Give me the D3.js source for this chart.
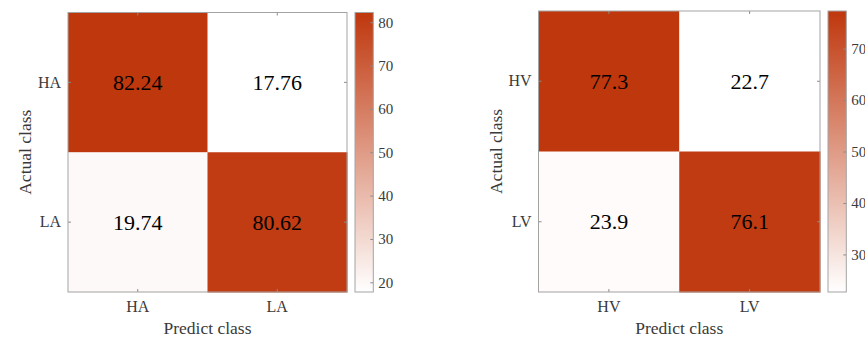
<!DOCTYPE html>
<html>
<head>
<meta charset="utf-8">
<script src="https://cdn.jsdelivr.net/npm/d3@7"></script>
<style>
  body { margin: 0; background: #fff; }
  svg text { font-family: "Liberation Serif", "Times New Roman", serif; }
  .frame { fill: none; stroke: #a3a3a3; stroke-width: 1; }
  .axis path { display: none; }
  .axis line { stroke: #8a8a8a; }
  .axis text { fill: #3a3a3a; font-size: 16px; }
  .cbar text { font-size: 15px; }
</style>
</head>
<body>
<div id="chart"></div>
<script>
// confusion matrix values (percent), rows = actual, cols = predicted
var leftClasses = ["HA", "LA"];
var leftValues = [[82.24, 17.76], [19.74, 80.62]];
var leftBarTicks = [20, 30, 40, 50, 60, 70, 80];

var rightClasses = ["HV", "LV"];
var rightValues = [[77.3, 22.7], [23.9, 76.1]];
var rightBarTicks = [30, 40, 50, 60, 70];

var width = 865, height = 340;
var lowColor = "#ffffff", highColor = "#bf370d";

var svg = d3.select("#chart").append("svg")
  .attr("width", width).attr("height", height);

var defs = svg.append("defs");

function drawMatrix(id, classes, values, barTicks, box) {
  var g = svg.append("g");
  var flat = [];
  values.forEach(function(row, i) {
    row.forEach(function(v, j) { flat.push({ r: i, c: j, v: v }); });
  });
  var vmin = d3.min(flat, function(d) { return d.v; });
  var vmax = d3.max(flat, function(d) { return d.v; });
  var color = d3.scaleLinear().domain([vmin, vmax]).range([lowColor, highColor]);

  var x = d3.scaleBand().domain(classes).range([box.x0, box.x1]);
  var y = d3.scaleBand().domain(classes).range([box.y0, box.y1]);

  // cells
  g.selectAll("rect.cell").data(flat).enter().append("rect")
    .attr("class", "cell")
    .attr("x", function(d) { return x(classes[d.c]); })
    .attr("y", function(d) { return y(classes[d.r]); })
    .attr("width", x.bandwidth() + 0.5)
    .attr("height", y.bandwidth() + 0.5)
    .attr("fill", function(d) { return color(d.v); });

  g.selectAll("text.val").data(flat).enter().append("text")
    .attr("class", "val")
    .attr("x", function(d) { return x(classes[d.c]) + x.bandwidth() / 2; })
    .attr("y", function(d) { return y(classes[d.r]) + y.bandwidth() / 2; })
    .attr("dy", "0.35em")
    .attr("text-anchor", "middle")
    .attr("font-size", 22)
    .attr("fill", "#000")
    .text(function(d) { return d.v; });

  // axes with inward ticks
  g.append("g").attr("class", "axis")
    .attr("transform", "translate(0," + box.y1 + ")")
    .call(d3.axisBottom(x).tickSizeInner(-3).tickSizeOuter(0).tickPadding(9));
  g.append("g").attr("class", "axis")
    .attr("transform", "translate(0," + box.y0 + ")")
    .call(d3.axisTop(x).tickSizeInner(-3).tickSizeOuter(0).tickFormat(""));
  g.append("g").attr("class", "axis")
    .attr("transform", "translate(" + box.x0 + ",0)")
    .call(d3.axisLeft(y).tickSizeInner(-3).tickSizeOuter(0).tickPadding(7));
  g.append("g").attr("class", "axis")
    .attr("transform", "translate(" + box.x1 + ",0)")
    .call(d3.axisRight(y).tickSizeInner(-3).tickSizeOuter(0).tickFormat(""));

  g.append("rect").attr("class", "frame")
    .attr("x", box.x0).attr("y", box.y0)
    .attr("width", box.x1 - box.x0).attr("height", box.y1 - box.y0);

  // axis titles
  g.append("text")
    .attr("x", (box.x0 + box.x1) / 2).attr("y", box.y1 + 42)
    .attr("text-anchor", "middle").attr("font-size", 17.5).attr("fill", "#3a3a3a")
    .text("Predict class");
  g.append("text")
    .attr("transform", "translate(" + (box.x0 - 37) + "," + ((box.y0 + box.y1) / 2) + ")rotate(-90)")
    .attr("text-anchor", "middle").attr("font-size", 17.5).attr("fill", "#3a3a3a")
    .text("Actual class");

  // colorbar
  var bx0 = box.x1 + 8, bw = 18.3;
  var grad = defs.append("linearGradient").attr("id", id)
    .attr("x1", 0).attr("y1", 1).attr("x2", 0).attr("y2", 0);
  grad.append("stop").attr("offset", 0).attr("stop-color", lowColor);
  grad.append("stop").attr("offset", 1).attr("stop-color", highColor);
  var cy = d3.scaleLinear().domain([vmin, vmax]).range([box.y1, box.y0]);
  g.append("rect")
    .attr("x", bx0).attr("y", box.y0)
    .attr("width", bw).attr("height", box.y1 - box.y0)
    .attr("fill", "url(#" + id + ")");
  g.append("g").attr("class", "axis cbar")
    .attr("transform", "translate(" + (bx0 + bw) + ",0)")
    .call(d3.axisRight(cy).tickValues(barTicks).tickSizeInner(-3).tickSizeOuter(0).tickPadding(5));
  g.append("rect").attr("class", "frame")
    .attr("x", bx0).attr("y", box.y0)
    .attr("width", bw).attr("height", box.y1 - box.y0);
}

drawMatrix("gradL", leftClasses, leftValues, leftBarTicks,
  { x0: 68, x1: 347, y0: 12.5, y1: 292 });
drawMatrix("gradR", rightClasses, rightValues, rightBarTicks,
  { x0: 538.5, x1: 820, y0: 11, y1: 292 });
</script>
</body>
</html>
